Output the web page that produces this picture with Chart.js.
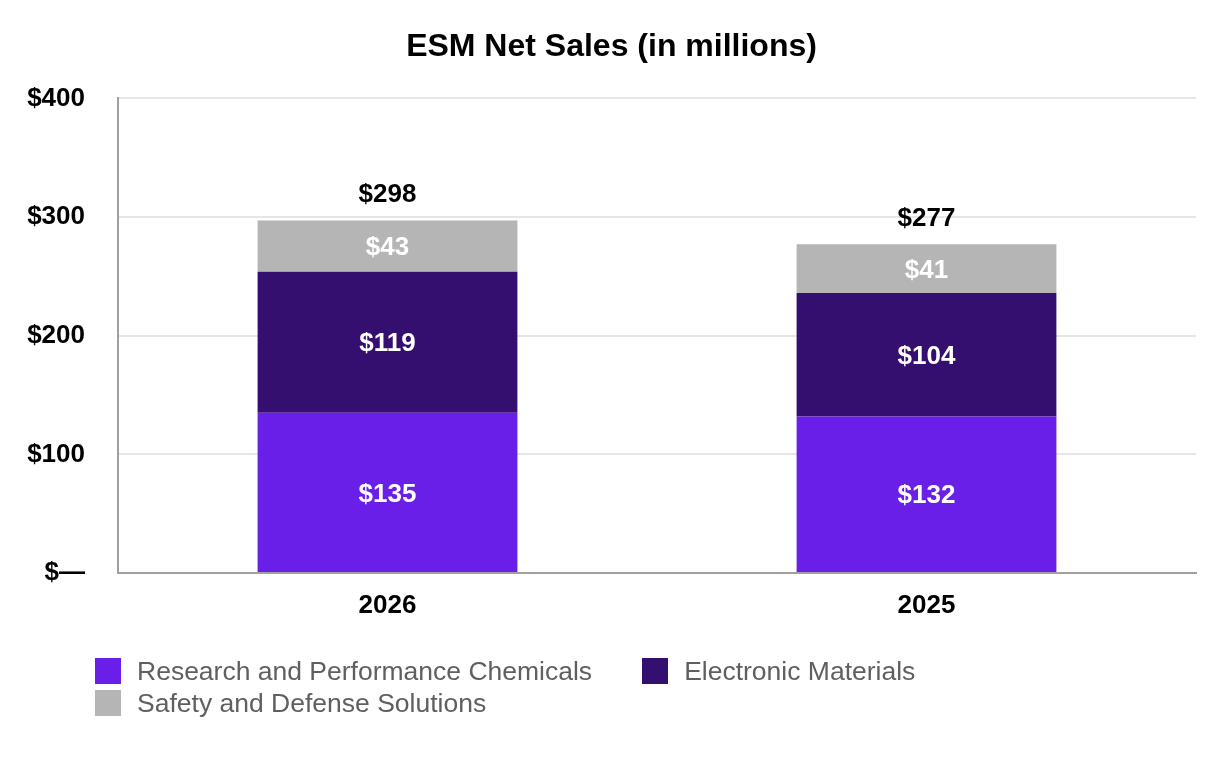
<!DOCTYPE html>
<html>
<head>
<meta charset="utf-8">
<script src="https://cdn.jsdelivr.net/npm/chart.js@4/dist/chart.umd.min.js"></script>
<style>
  html, body { margin: 0; padding: 0; background: #fff; }
  #wrap { position: relative; width: 1226px; height: 760px; }
  #leyenda {
    position: absolute; left: 95px; top: 658px; width: 1100px;
    display: flex; flex-wrap: wrap; row-gap: 6px;
    font-family: "Liberation Sans", Arial, sans-serif; font-size: 26.5px; color: #5f5f5f;
  }
  .item { display: flex; align-items: center; margin-right: 50px; height: 26px; }
  .caja { width: 26px; height: 26px; margin-right: 16px; }
</style>
</head>
<body>
<div id="wrap">
  <canvas id="barChart" width="1226" height="760"></canvas>
  <div id="leyenda"></div>
</div>
<script>
const anios = ['2026', '2025'];
const ventas_rpc = [135, 132];
const ventas_em = [119, 104];
const ventas_sds = [43, 41];
const totales = [298, 277];
const ticks_y = [0, 100, 200, 300, 400];

const fuente = '"Liberation Sans", Arial, sans-serif';

// etiquetas dentro de las barras y total encima
const etiquetasPlugin = {
  id: 'etiquetas',
  afterDatasetsDraw(chart) {
    const ctx = chart.ctx;
    ctx.save();
    ctx.textAlign = 'center';
    ctx.textBaseline = 'middle';
    ctx.font = 'bold 26px ' + fuente;
    chart.data.datasets.forEach((ds, i) => {
      const meta = chart.getDatasetMeta(i);
      meta.data.forEach((bar, j) => {
        ctx.fillStyle = '#ffffff';
        ctx.fillText('$' + ds.data[j], bar.x, (bar.y + bar.base) / 2 + 2);
        if (i === chart.data.datasets.length - 1) {
          ctx.fillStyle = '#000000';
          ctx.fillText('$' + totales[j], bar.x, bar.y - 26);
        }
      });
    });
    ctx.restore();
  },
};

const grafico = new Chart(document.getElementById('barChart').getContext('2d'), {
  type: 'bar',
  data: {
    labels: anios,
    datasets: [
      { label: 'Research and Performance Chemicals', backgroundColor: '#6A1FE8', data: ventas_rpc },
      { label: 'Electronic Materials', backgroundColor: '#340F70', data: ventas_em },
      { label: 'Safety and Defense Solutions', backgroundColor: '#B5B5B5', data: ventas_sds },
    ],
  },
  options: {
    responsive: false,
    animation: false,
    layout: { padding: { left: 27, right: 30, top: 0, bottom: 136 } },
    datasets: { bar: { categoryPercentage: 1, barPercentage: 0.482 } },
    plugins: {
      legend: { display: false },
      tooltip: { enabled: false },
      title: {
        display: true,
        text: 'ESM Net Sales (in millions)',
        color: '#000',
        font: { family: fuente, size: 32, weight: 'bold' },
        padding: { top: 28, bottom: 32 },
      },
    },
    scales: {
      x: {
        stacked: true,
        afterFit(axis) { axis.height = 51; },
        grid: { display: false, drawTicks: false },
        border: { color: '#a0a0a0', width: 2 },
        ticks: { color: '#000', padding: 17, font: { family: fuente, size: 26, weight: 'bold' } },
      },
      y: {
        stacked: true,
        min: 0,
        max: 400,
        afterFit(axis) { axis.width = 91; },
        afterBuildTicks(axis) { axis.ticks = ticks_y.map((v) => ({ value: v })); },
        grid: { color: '#e6e6e6', lineWidth: 2, drawTicks: false },
        border: { color: '#a0a0a0', width: 2 },
        ticks: {
          color: '#000',
          padding: 33,
          font: { family: fuente, size: 26, weight: 'bold' },
          callback: (v) => (v === 0 ? '$\u2014' : '$' + v),
        },
      },
    },
  },
  plugins: [etiquetasPlugin],
});

// leyenda html a partir de los datasets
const leyenda = document.getElementById('leyenda');
grafico.data.datasets.forEach((ds) => {
  const item = document.createElement('div');
  item.className = 'item';
  item.innerHTML = `<span class="caja" style="background:${ds.backgroundColor}"></span><span>${ds.label}</span>`;
  leyenda.appendChild(item);
});
</script>
</body>
</html>
